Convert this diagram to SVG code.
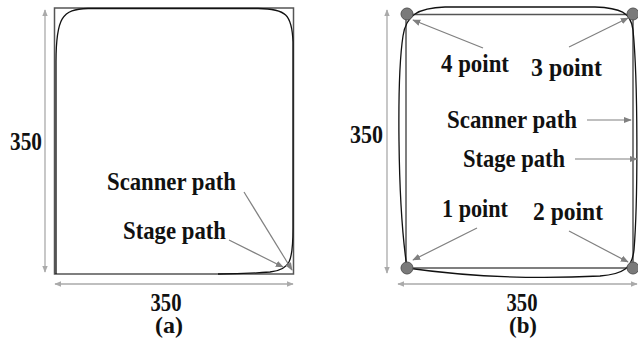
<svg xmlns="http://www.w3.org/2000/svg" width="638" height="347" viewBox="0 0 638 347">
  <style>
    .lbl { font-family: "Liberation Serif", "Times New Roman", serif; font-weight: bold; font-size: 25px; fill: #111; }
    .cap { font-size: 23px; }
    .mid { text-anchor: middle; }
    .dim { stroke: #aaa; stroke-width: 1.3; fill: none; marker-start: url(#dimHead); marker-end: url(#dimHead); }
    .ptr { stroke: #808080; stroke-width: 1.2; fill: none; marker-end: url(#ptrHead); }
    .square { fill: none; stroke: #555; stroke-width: 1.5; }
    .scan { fill: none; stroke: #111; stroke-width: 1.3; }
    .pt { fill: #7a7a7a; stroke: #555; stroke-width: 1; }
  </style>
  <defs>
    <marker id="dimHead" viewBox="0 0 10 10" refX="9" refY="5" markerWidth="7" markerHeight="7" orient="auto-start-reverse" markerUnits="userSpaceOnUse">
      <path d="M0,1 L10,5 L0,9 Z" fill="#aaa"/>
    </marker>
    <marker id="ptrHead" viewBox="0 0 10 10" refX="9" refY="5" markerWidth="8" markerHeight="8" orient="auto" markerUnits="userSpaceOnUse">
      <path d="M0,1 L10,5 L0,9 Z" fill="#808080"/>
    </marker>
  </defs>

  <!-- Panel (a): single-stage scan -->
  <g id="panel-a">
    <g id="a-field">
      <rect class="square" x="54.5" y="8" width="239" height="266"/>
      <path class="scan" d="M56 274 L56 62 C56 18 62 9 88 8.5 L258 8.5 C286 9 292 14 293 42 L293 228 C293 262 290 270 270 272 C250 273.5 235 274 218 274"/>
    </g>
    <g id="a-dims">
      <line class="dim" x1="45" y1="10" x2="45" y2="272"/>
      <line class="dim" x1="55" y1="284" x2="293" y2="284"/>
      <text class="lbl" x="10" y="150" textLength="32" lengthAdjust="spacingAndGlyphs">350</text>
      <text class="lbl mid" x="166" y="311" textLength="31" lengthAdjust="spacingAndGlyphs">350</text>
      <text class="lbl cap mid" x="169" y="333" textLength="28" lengthAdjust="spacingAndGlyphs">(a)</text>
    </g>
    <g id="a-labels">
      <text class="lbl" x="107" y="190" textLength="129" lengthAdjust="spacingAndGlyphs">Scanner path</text>
      <text class="lbl" x="123" y="239" textLength="103" lengthAdjust="spacingAndGlyphs">Stage path</text>
    </g>
  </g>

  <!-- Panel (b): four-point stage path -->
  <g id="panel-b">
    <g id="b-field">
      <rect class="square" x="406" y="14.5" width="227" height="253.5" stroke="#222"/>
      <path class="scan" d="M407 268 C397 200 397 75 403 36 C406 15 418 8 445 7 L595 7 C620 8 631 12 633 30 C638 80 638 200 634 250 C632 268 624 274 600 276 C540 279 470 277 407 268 Z"/>
    </g>
    <g id="point-4"><circle class="pt" cx="407" cy="14" r="6"/></g>
    <g id="point-3"><circle class="pt" cx="633" cy="14" r="6"/></g>
    <g id="point-1"><circle class="pt" cx="407" cy="268" r="6"/></g>
    <g id="point-2"><circle class="pt" cx="633" cy="268" r="6"/></g>
    <g id="b-dims">
      <line class="dim" x1="387" y1="10" x2="387" y2="273"/>
      <line class="dim" x1="398" y1="284" x2="637" y2="284"/>
      <text class="lbl" x="350" y="143" textLength="33" lengthAdjust="spacingAndGlyphs">350</text>
      <text class="lbl mid" x="522" y="311" textLength="31" lengthAdjust="spacingAndGlyphs">350</text>
      <text class="lbl cap mid" x="523" y="333" textLength="28" lengthAdjust="spacingAndGlyphs">(b)</text>
    </g>
    <g id="b-labels">
      <text class="lbl" x="441" y="72" textLength="68" lengthAdjust="spacingAndGlyphs">4 point</text>
      <text class="lbl" x="531" y="76" textLength="71" lengthAdjust="spacingAndGlyphs">3 point</text>
      <text class="lbl" x="447" y="128" textLength="130" lengthAdjust="spacingAndGlyphs">Scanner path</text>
      <text class="lbl" x="463" y="167" textLength="102" lengthAdjust="spacingAndGlyphs">Stage path</text>
      <text class="lbl" x="442" y="217" textLength="66" lengthAdjust="spacingAndGlyphs">1 point</text>
      <text class="lbl" x="533" y="220" textLength="70" lengthAdjust="spacingAndGlyphs">2 point</text>
    </g>
  </g>

  <!-- Label pointers -->
  <g id="connectors">
    <line class="ptr" x1="244" y1="192" x2="292" y2="270"/>
    <line class="ptr" x1="229" y1="240" x2="283" y2="267"/>
    <line class="ptr" x1="483" y1="48" x2="413" y2="20"/>
    <line class="ptr" x1="569" y1="47" x2="628" y2="18"/>
    <line class="ptr" x1="587" y1="120" x2="631" y2="120"/>
    <line class="ptr" x1="575" y1="159" x2="637" y2="159"/>
    <line class="ptr" x1="477" y1="228" x2="413" y2="260"/>
    <line class="ptr" x1="569" y1="231" x2="628" y2="262"/>
  </g>
</svg>
